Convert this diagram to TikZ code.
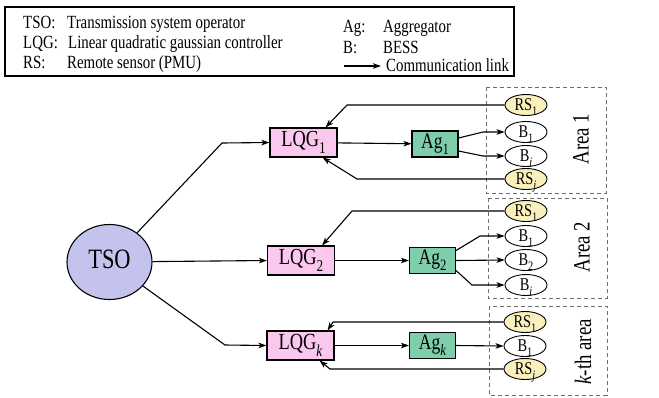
\documentclass[tikz,border=0pt]{standalone}
\usepackage{fontspec}
\setmainfont[FakeStretch=0.8]{Liberation Serif}
\usetikzlibrary{shapes.geometric,arrows.meta,calc}
\definecolor{tsofill}{RGB}{196,195,238}
\definecolor{lqgfill}{RGB}{250,200,238}
\definecolor{agfill}{RGB}{126,206,172}
\definecolor{rsfill}{RGB}{250,240,190}
\definecolor{areagray}{RGB}{110,110,110}
\newcommand{\fs}[1]{\fontsize{#1bp}{#1bp}\selectfont}
\newcommand{\sbx}[1]{\raisebox{-0.28em}{\scalebox{0.72}{#1}}}
\tikzset{
  arr/.style={line width=1.1bp,-{Stealth[length=8bp,width=5.5bp,inset=2bp]}},
  lqgbox/.style={draw,line width=1.1bp,fill=lqgfill,minimum width=67bp,minimum height=29bp,inner sep=0pt,font=\fs{23}},
  agbox/.style={draw,line width=1.1bp,fill=agfill,minimum width=46bp,minimum height=26bp,inner sep=0pt,font=\fs{22}},
  smallell/.style={ellipse,draw,line width=0.9bp,minimum width=42bp,minimum height=21bp,inner sep=0pt,text height=11bp,text depth=0pt,font=\fs{18}},
  rsnode/.style={smallell,fill=rsfill},
  bnode/.style={smallell,fill=white},
  areabox/.style={draw=areagray,dashed,dash pattern=on 4bp off 3bp,line width=1bp},
  arealabel/.style={rotate=90,font=\fs{23.5}},
  legtext/.style={anchor=base west,inner sep=0pt,font=\fs{18.6}},
}
\begin{document}
\begin{tikzpicture}[x=1bp,y=-1bp]
\useasboundingbox (0,0) rectangle (659,397);
\fill[white] (0,0) rectangle (659,397);
% legend
\draw[line width=1.2bp] (5,7) rectangle (514,76);
\node[legtext] (l1a) at (23,28) {TSO:};
\node[legtext] (l1b) at (67,28) {Transmission system operator};
\node[legtext] (l2a) at (23,48) {LQG:};
\node[legtext] (l2b) at (68,48) {Linear quadratic gaussian controller};
\node[legtext] (l3a) at (23,68) {RS:};
\node[legtext] (l3b) at (67,68) {Remote sensor (PMU)};
\node[legtext] (r1a) at (343,32) {Ag:};
\node[legtext] (r1b) at (383,32) {Aggregator};
\node[legtext] (r2a) at (343,53) {B:};
\node[legtext] (r2b) at (383,53) {BESS};
\coordinate (la) at (344,66);
\coordinate (lb) at (381,66);
\draw[arr] (la) -- (lb);
\node[legtext] (r3b) at (386,71) {Communication link};
% area boxes
\draw[areabox] (486,87) rectangle (606,193);
\draw[areabox] (488,198) rectangle (607,298);
\draw[areabox] (489,306) rectangle (607,395);
\node[arealabel] (al1) at (581,139) {Area 1};
\node[arealabel] (al2) at (582,247) {Area 2};
\node[arealabel] (alk) at (583,352) {\textit{k}-th area};
% main nodes
\node[ellipse,draw,line width=1.1bp,fill=tsofill,minimum width=85bp,minimum height=75bp,inner sep=0pt,text height=13bp,text depth=0pt,font=\fs{28}] (tso) at (109.5,262) {TSO};
\node[lqgbox] (lqg1) at (303.5,142.5) {LQG\sbx{1}};
\node[lqgbox] (lqg2) at (301,260.5) {LQG\sbx{2}};
\node[lqgbox] (lqgk) at (300.5,345.5) {LQG\sbx{\textit{k}}};
\node[agbox] (ag1) at (435,144) {Ag\sbx{1}};
\node[agbox] (ag2) at (432.5,260.5) {Ag\sbx{2}};
\node[agbox] (agk) at (432.5,345.5) {Ag\sbx{\textit{k}}};
% area 1
\node[rsnode] (rs11) at (526,105) {RS\sbx{1}};
\node[bnode] (b11) at (526,132) {B\sbx{1}};
\node[bnode] (b1i) at (526,156) {B\sbx{\textit{i}}};
\node[rsnode] (rs1j) at (526,179) {RS\sbx{\textit{j}}};
% area 2
\node[rsnode] (rs21) at (526,211) {RS\sbx{1}};
\node[bnode] (b21) at (526,236) {B\sbx{1}};
\node[bnode] (b22) at (526,260) {B\sbx{2}};
\node[bnode] (b2i) at (526,285) {B\sbx{\textit{i}}};
% area k
\node[rsnode] (rsk1) at (525,322) {RS\sbx{1}};
\node[bnode] (bk1) at (525,346) {B\sbx{1}};
\node[rsnode] (rskj) at (525,369) {RS\sbx{\textit{j}}};
% TSO links
\draw[arr] (tso) -- (222,143) -- (lqg1.west);
\draw[arr] (tso) -- (lqg2.west);
\draw[arr] (tso) -- (225,345) -- (lqgk.west);
% LQG to Ag
\draw[arr] (lqg1) -- (ag1);
\draw[arr] (lqg2) -- (ag2);
\draw[arr] (lqgk) -- (agk);
% Ag to B
\draw[arr] ([yshift=6bp]ag1.east) -- (483,0 |- b11.west) -- (b11.west);
\draw[arr] ([yshift=-7bp]ag1.east) -- (483,0 |- b1i.west) -- (b1i.west);
\draw[arr] ([yshift=10bp]ag2.east) -- (480,0 |- b21.west) -- (b21.west);
\draw[arr] (ag2.east) -- (b22.west);
\draw[arr] ([yshift=-10bp]ag2.east) -- (472,0 |- b2i.west) -- (b2i.west);
\draw[arr] (agk.east) -- (bk1.west);
% feedback
\draw[arr] (rs11.west) -- (347,0 |- rs11.west) -- ([xshift=-12bp]lqg1.north east);
\draw[arr] (rs1j.west) -- (357,0 |- rs1j.west) -- ([xshift=-15bp]lqg1.south east);
\draw[arr] (rs21.west) -- (352,0 |- rs21.west) -- ([xshift=-13bp]lqg2.north east);
\draw[arr] (rsk1.west) -- (333,0 |- rsk1.west) -- ([xshift=-7bp]lqgk.north east);
\draw[arr] (rskj.west) -- (330,0 |- rskj.west) -- ([xshift=-15bp]lqgk.south east);
\end{tikzpicture}
\end{document}
